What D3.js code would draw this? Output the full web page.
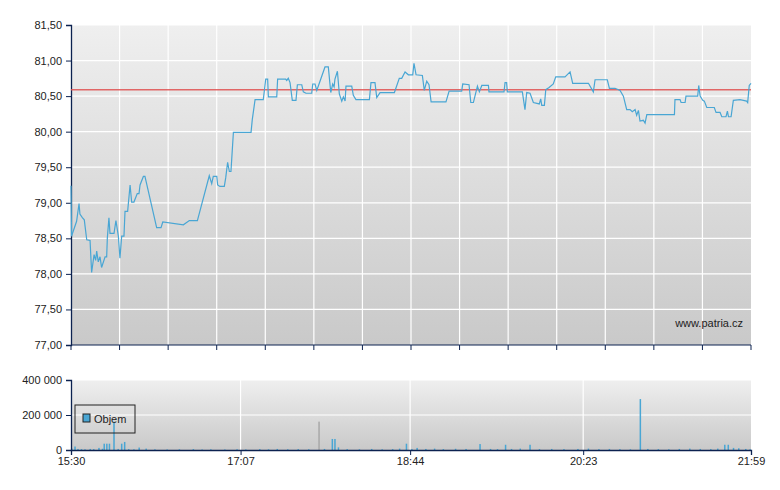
<!DOCTYPE html>
<html><head><meta charset="utf-8">
<script src="https://cdn.jsdelivr.net/npm/d3@7"></script>
<style>
body{margin:0;background:#fff;font-family:"Liberation Sans",Arial,sans-serif;}
text{font-size:11px;fill:#222;}
</style></head><body>
<svg id="chart" width="780" height="490"></svg>
<script>
// minutes after 15:30, price
var priceData = [
[0,79.24],[0.3,78.53],[3.2,78.74],[4.6,78.99],[5.1,78.84],[6.5,78.79],[7.6,78.76],[9,78.48],[10.9,78.47],
[11.8,78.02],[13.2,78.27],[14.1,78.19],[14.7,78.32],[15.6,78.17],[16.6,78.24],[17.5,78.09],[19.5,78.24],
[20.4,78.24],[20.8,78.51],[21.7,78.79],[22.3,78.57],[24.6,78.57],[25.7,78.75],[27.1,78.53],[28,78.22],
[29,78.53],[30.3,78.53],[30.9,78.88],[32.4,78.88],[33.8,79.25],[34.7,79.01],[36,79.01],[37.9,79.13],
[38.9,79.13],[39.5,79.25],[41.4,79.37],[42.3,79.37],[49,78.65],[51.5,78.65],[52.5,78.73],[64.3,78.69],
[67.7,78.75],[72.3,78.75],[79.1,79.38],[80.5,79.27],[81.4,79.37],[83.4,79.37],[83.9,79.25],[85.2,79.23],
[87.7,79.23],[88.5,79.35],[89.6,79.57],[90.6,79.44],[91.5,79.44],[92.9,79.99],[103,79.99],[103.7,80.17],
[105.3,80.45],[110,80.45],[111.4,80.74],[112.5,80.74],[112.9,80.49],[117.7,80.49],[118.2,80.74],
[122.8,80.74],[123.4,80.72],[124.3,80.75],[125.3,80.69],[126.6,80.44],[128.7,80.44],[129.5,80.66],
[132,80.66],[132.9,80.56],[134.4,80.54],[137.7,80.54],[138.3,80.67],[139.6,80.67],[140.6,80.58],
[145.3,80.91],[147.2,80.91],[148.6,80.55],[149.7,80.67],[150.5,80.63],[151,80.74],[152.4,80.85],
[153.5,80.53],[154.9,80.43],[155.8,80.49],[156.8,80.43],[157.3,80.64],[160.6,80.64],[161.5,80.51],
[163,80.45],[170.7,80.45],[171.6,80.69],[173.9,80.69],[174.9,80.48],[176.8,80.55],[185,80.55],
[187.8,80.75],[189.2,80.75],[191.1,80.84],[193,80.8],[195.5,80.8],[196.2,80.96],[197.4,80.8],
[201,80.79],[202.1,80.58],[203.5,80.71],[204.8,80.66],[206,80.42],[214.5,80.42],[216.3,80.57],
[223.5,80.57],[224.1,80.67],[227.7,80.66],[228.7,80.41],[230.2,80.41],[232.5,80.64],[233.6,80.56],
[235,80.65],[238.8,80.65],[239.1,80.56],[247.7,80.56],[248.3,80.69],[249.2,80.69],[249.6,80.56],
[258.2,80.56],[259.7,80.31],[260.7,80.55],[262.6,80.54],[264.5,80.41],[267.9,80.39],[268.7,80.46],
[269.3,80.37],[270.8,80.37],[271.6,80.59],[273.5,80.62],[275.9,80.67],[277.3,80.77],[282.6,80.77],
[285.5,80.84],[287,80.68],[296,80.68],[298.8,80.56],[299.8,80.73],[306.8,80.73],[308,80.61],
[311.2,80.61],[314.1,80.58],[316,80.5],[317.9,80.31],[319.8,80.31],[321.1,80.28],[322.7,80.31],
[323.6,80.23],[324.6,80.3],[325.5,80.15],[327.4,80.16],[328.4,80.12],[329.4,80.24],[345.2,80.24],
[345.5,80.45],[348.4,80.45],[349,80.41],[351.3,80.41],[351.8,80.5],[358.5,80.5],[359.1,80.65],
[359.9,80.5],[361.4,80.44],[362.3,80.43],[363.7,80.34],[368,80.34],[369,80.27],[371.3,80.27],
[372.3,80.21],[374.7,80.21],[375.5,80.29],[376.1,80.21],[377.6,80.21],[378.9,80.44],[382.7,80.45],
[386.5,80.43],[387.1,80.41],[388,80.65],[389,80.68]
];
var refPrice = 80.59;
// minutes after 15:30, volume, grey flag
var volumeData = [
[0.5,8000],[2.3,20000],[4,6000],[6,5000],[8,4000],[11,6000],[13,5000],[16,12000],[18,7000],[19,36000],
[20.5,36000],[22,36000],[24.6,162000],[27,6000],[29,36000],[30.7,46000],[33,5000],[36,4000],[39,14000],
[43,8000],[48,4000],[55,3000],[62,4000],[70,5000],[75,3000],[80,4000],[88,3000],[95,4000],[100,3000],
[108,5000],[113,4000],[118,6000],[124,4000],[130,5000],[136,4000],[141.9,162000,1],[145,6000],[149.5,63000],
[151,63000],[153,15000],[158,5000],[165,4000],[172,6000],[178,4000],[184,5000],[188,8000],[191.9,36000],
[195,5000],[198,12000],[203,6000],[208,8000],[213,5000],[220,7000],[226,6000],[234,34000],[240,6000],
[244,5000],[248.6,30000],[252,6000],[257,8000],[262.6,30000],[268,5000],[275,6000],[282,5000],[290,6000],
[296,8000],[302,5000],[308,6000],[314,5000],[320,4000],[325.7,291000],[330,6000],[336,5000],[342,4000],
[348,6000],[354,8000],[360,6000],[366,5000],[370,8000],[374,30000],[376,30000],[379,12000],[382,10000],
[386,6000],[388.5,4000]
];
var priceTicks = [77,77.5,78,78.5,79,79.5,80,80.5,81,81.5];
var volumeTicks = [0,200000,400000];
var timeLabels = ["15:30","17:07","18:44","20:23","21:59"];
var timeLabelMinutes = [0,97,194,293,389];

var svg = d3.select("#chart");
var L = 71, R = 751, T = 25, B = 345, VT = 380, VB = 450;
var axisColor = "#0c2250";
var lineColor = "#49a6d4";

var x = d3.scaleLinear().domain([0,389]).range([L,R]);
var y = d3.scaleLinear().domain([77,81.5]).range([B,T]);
var yv = d3.scaleLinear().domain([0,400000]).range([VB,VT]);

var defs = svg.append("defs");
var grad = defs.append("linearGradient").attr("id","bg").attr("x1",0).attr("y1",0).attr("x2",0).attr("y2",1);
grad.append("stop").attr("offset","0").attr("stop-color","#efefef");
grad.append("stop").attr("offset","1").attr("stop-color","#c9c9c9");

// panel backgrounds
svg.append("rect").attr("x",L).attr("y",T).attr("width",R-L).attr("height",B-T).attr("fill","url(#bg)");
svg.append("rect").attr("x",L).attr("y",VT).attr("width",R-L).attr("height",VB-VT).attr("fill","url(#bg)");

// main grid
var vgrid = d3.range(1,14).map(function(i){ return L + (R-L)*i/14; });
svg.selectAll("line.vg").data(vgrid).enter().append("line")
	.attr("x1",function(d){return d;}).attr("x2",function(d){return d;})
	.attr("y1",T).attr("y2",B).attr("stroke","#fff").attr("stroke-width",1.2);
svg.selectAll("line.hg").data(priceTicks.slice(1)).enter().append("line")
	.attr("x1",L).attr("x2",R).attr("y1",function(d){return y(d);}).attr("y2",function(d){return y(d);})
	.attr("stroke","#fff").attr("stroke-width",1.2);

// main axes
var fmt = function(d){ return d3.format(".2f")(d).replace(".",","); };
svg.append("g").attr("transform","translate("+L+",0)")
	.call(d3.axisLeft(y).tickValues(priceTicks).tickFormat(fmt).tickSize(5).tickPadding(4));
var xt = d3.range(0,15).map(function(i){ return L + (R-L)*i/14; });
svg.selectAll("line.xt").data(xt).enter().append("line")
	.attr("x1",function(d){return d;}).attr("x2",function(d){return d;})
	.attr("y1",B).attr("y2",B+5).attr("stroke",axisColor);
svg.append("line").attr("x1",L).attr("x2",R).attr("y1",B).attr("y2",B).attr("stroke",axisColor);

// reference line
svg.append("line").attr("x1",L).attr("x2",R).attr("y1",y(refPrice)).attr("y2",y(refPrice))
	.attr("stroke","#e05050").attr("stroke-width",1.5).attr("opacity",0.85);

// price line
svg.append("path").datum(priceData)
	.attr("d", d3.line().x(function(d){return x(d[0]);}).y(function(d){return y(d[1]);}))
	.attr("fill","none").attr("stroke",lineColor).attr("stroke-width",1.2);

svg.append("text").attr("x",743).attr("y",327).attr("text-anchor","end").text("www.patria.cz");

// volume panel grid
svg.selectAll("line.vvg").data(timeLabelMinutes.slice(1,4)).enter().append("line")
	.attr("x1",function(d){return x(d);}).attr("x2",function(d){return x(d);})
	.attr("y1",VT).attr("y2",VB).attr("stroke","#fff").attr("stroke-width",1.2);
svg.selectAll("line.vhg").data(volumeTicks.slice(1)).enter().append("line")
	.attr("x1",L).attr("x2",R).attr("y1",function(d){return yv(d);}).attr("y2",function(d){return yv(d);})
	.attr("stroke","#fff").attr("stroke-width",1.2);

// volume bars
svg.selectAll("rect.vol").data(volumeData).enter().append("rect")
	.attr("x",function(d){return x(d[0]) - 0.75;}).attr("width",1.5)
	.attr("y",function(d){return yv(d[1]);}).attr("height",function(d){return VB - yv(d[1]);})
	.attr("fill",function(d){return d[2] ? "#a8a8a8" : lineColor;});

// volume axes
var vfmt = function(d){ return d3.format(",")(d).replace(/,/g," "); };
svg.append("g").attr("transform","translate("+L+",0)")
	.call(d3.axisLeft(yv).tickValues(volumeTicks).tickFormat(vfmt).tickSize(5).tickPadding(4));
svg.append("g").attr("transform","translate(0,"+VB+")")
	.call(d3.axisBottom(x).tickValues(timeLabelMinutes)
		.tickFormat(function(d,i){return timeLabels[i];}).tickSize(5).tickPadding(2));

svg.selectAll(".domain").attr("stroke",axisColor).attr("stroke-width",1.3);
svg.selectAll(".tick line").attr("stroke",axisColor);
svg.selectAll(".tick text").style("font-size","11px").attr("fill","#222");

// legend
var lg = svg.append("g").attr("transform","translate(75,405)");
lg.append("rect").attr("width",60).attr("height",28).attr("fill","none").attr("stroke","#222");
lg.append("rect").attr("x",8).attr("y",9).attr("width",7).attr("height",8).attr("fill",lineColor).attr("stroke","#222");
lg.append("text").attr("x",19).attr("y",18).text("Objem");
</script>
</body></html>
